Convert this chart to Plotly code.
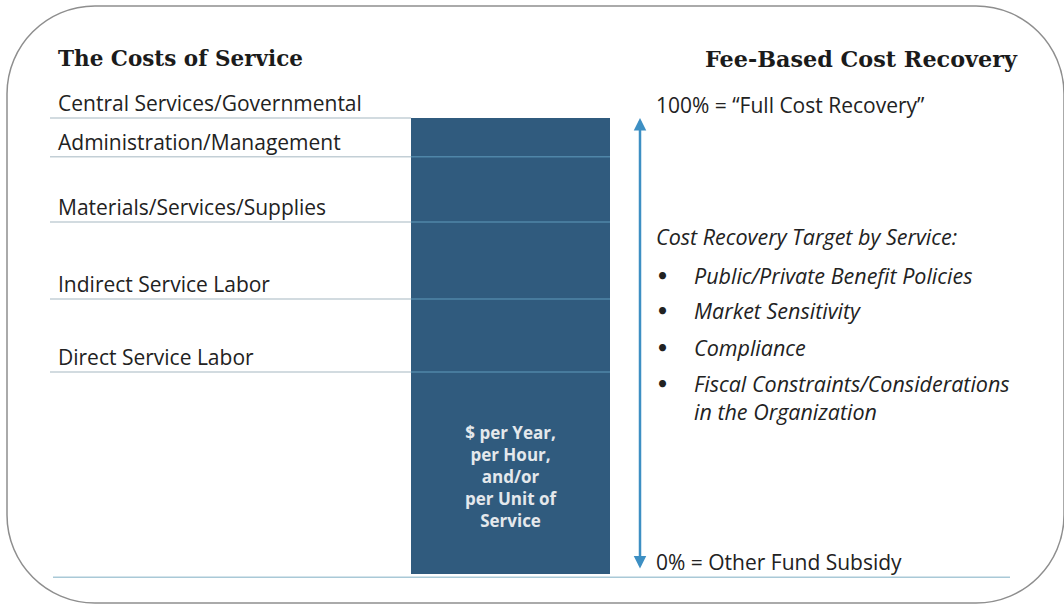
import plotly.graph_objects as go

# ---------------- data ----------------
segments = ["Direct Service Labor", "Indirect Service Labor", "Materials/Services/Supplies",
            "Administration/Management", "Central Services/Governmental"]   # bottom -> top
segment_share = [44.3, 16.0, 16.9, 14.3, 8.5]          # % of the full cost of service
bar_text = ["$ per Year,", "per Hour,", "and/or", "per Unit of", "Service"]
left_title = "The Costs of Service"
right_title = "Fee-Based Cost Recovery"
top_label = "100% = “Full Cost Recovery”"
bottom_label = "0% = Other Fund Subsidy"
target_head = "Cost Recovery Target by Service:"
target_items = ["Public/Private Benefit Policies", "Market Sensitivity", "Compliance",
                "Fiscal Constraints/Considerations<br>in the Organization"]

# ---------------- layout helpers ----------------
W, H = 1064, 605
BAR_TOP_PX, BAR_BOT_PX = 118, 574
scale = (BAR_BOT_PX - BAR_TOP_PX) / 100.0
y_lo = -(H - BAR_BOT_PX) / scale
y_hi = BAR_BOT_PX / scale


def px(x):
    return x / W


def py(y):
    return 1 - y / H


BAR_COLOR = "#305b7e"
TXT = "#222222"
LABEL_FONT = "Open Sans"
LSIZE = 21
ISIZE = 21.5

fig = go.Figure()

# stacked bar, one trace per cost layer
for name, v in zip(segments, segment_share):
    fig.add_trace(go.Bar(
        x=[510.5], y=[v], width=199, name=name,
        marker=dict(color=BAR_COLOR, line=dict(width=0)),
        hoverinfo="name+y", showlegend=False,
    ))

# boundaries (cumulative tops)
cum = []
s = 0
for v in segment_share:
    s += v
    cum.append(s)

shapes = []
# rounded border
x0, y0, x1, y1, r = 7, 6, 1064, 603, 88
k = 0.5523 * r
path = (f"M {px(x0 + r)},{py(y0)} L {px(x1 - r)},{py(y0)} "
        f"C {px(x1 - r + k)},{py(y0)} {px(x1)},{py(y0 + r - k)} {px(x1)},{py(y0 + r)} "
        f"L {px(x1)},{py(y1 - r)} "
        f"C {px(x1)},{py(y1 - r + k)} {px(x1 - r + k)},{py(y1)} {px(x1 - r)},{py(y1)} "
        f"L {px(x0 + r)},{py(y1)} "
        f"C {px(x0 + r - k)},{py(y1)} {px(x0)},{py(y1 - r + k)} {px(x0)},{py(y1 - r)} "
        f"L {px(x0)},{py(y0 + r)} "
        f"C {px(x0)},{py(y0 + r - k)} {px(x0 + r - k)},{py(y0)} {px(x0 + r)},{py(y0)} Z")
shapes.append(dict(type="path", xref="paper", yref="paper", path=path,
                   line=dict(color="#8e8e8e", width=1.5), layer="below"))

for c in cum:
    shapes.append(dict(type="line", xref="x", yref="y", x0=50, x1=411, y0=c, y1=c,
                       line=dict(color="#c3cfd6", width=1.5), layer="above"))
    if c < cum[-1]:
        shapes.append(dict(type="line", xref="x", yref="y", x0=411, x1=610, y0=c, y1=c,
                           line=dict(color="#4f86a8", width=1.5), layer="above"))
# bottom baseline
shapes.append(dict(type="line", xref="x", yref="y", x0=53, x1=1010, y0=-0.7, y1=-0.7,
                   line=dict(color="#a9c9d7", width=1.5), layer="above"))

annotations = []
# left labels, sitting on the top line of each layer
for name, c in zip(segments, cum):
    annotations.append(dict(x=56, y=c, xref="x", yref="y", text=name, showarrow=False,
                            xanchor="left", yanchor="bottom", yshift=-1,
                            font=dict(family=LABEL_FONT, size=LSIZE, color=TXT)))
# titles
annotations.append(dict(x=px(56), y=py(59), xref="paper", yref="paper", text=f"<b>{left_title}</b>",
                        showarrow=False, xanchor="left", yanchor="middle",
                        font=dict(family="DejaVu Serif", size=21.5, color="#1b1b1b")))
annotations.append(dict(x=px(1020), y=py(59), xref="paper", yref="paper", text=f"<b>{right_title}</b>",
                        showarrow=False, xanchor="right", yanchor="middle",
                        font=dict(family="DejaVu Serif", size=22.3, color="#1b1b1b")))
# text inside bar
annotations.append(dict(x=510.5, y=py(476), xref="x", yref="paper", text="<br>".join(bar_text),
                        showarrow=False, xanchor="center", yanchor="middle", align="center",
                        font=dict(family=LABEL_FONT, size=17, color="#e4e8ec", weight=700)))
# arrow 0% .. 100%
annotations.append(dict(x=640, y=cum[-1], ax=640, ay=0.9, xref="x", yref="y", axref="x", ayref="y",
                        text="", showarrow=True, arrowhead=2, startarrowhead=2, arrowside="end+start",
                        arrowsize=1, startarrowsize=1, arrowwidth=2.5, arrowcolor="#3d8fc3"))
# right texts
annotations.append(dict(x=px(654), y=py(105), xref="paper", yref="paper", text=top_label,
                        showarrow=False, xanchor="left", yanchor="middle",
                        font=dict(family=LABEL_FONT, size=LSIZE, color=TXT)))
annotations.append(dict(x=px(654), y=py(562), xref="paper", yref="paper", text=bottom_label,
                        showarrow=False, xanchor="left", yanchor="middle",
                        font=dict(family=LABEL_FONT, size=LSIZE, color=TXT)))
annotations.append(dict(x=px(654), y=py(237), xref="paper", yref="paper", text=f"<i>{target_head}</i>",
                        showarrow=False, xanchor="left", yanchor="middle",
                        font=dict(family=LABEL_FONT, size=ISIZE, color=TXT)))
item_y = [274, 309, 346, 382]
for t, yy in zip(target_items, item_y):
    annotations.append(dict(x=px(655), y=py(yy), xref="paper", yref="paper", text="•",
                            showarrow=False, xanchor="left", yanchor="middle",
                            font=dict(family="Lato", size=19, color=TXT)))
    annotations.append(dict(x=px(692), y=py(yy - 15), xref="paper", yref="paper",
                            text=f"<i>{t}</i>",
                            showarrow=False, xanchor="left", yanchor="top", align="left",
                            font=dict(family=LABEL_FONT, size=ISIZE, color=TXT)))

fig.update_layout(
    width=W, height=H, margin=dict(l=0, r=0, t=0, b=0),
    paper_bgcolor="white", plot_bgcolor="white",
    barmode="stack", bargap=0,
    xaxis=dict(range=[0, W], visible=False, fixedrange=True),
    yaxis=dict(range=[y_lo, y_hi], visible=False, fixedrange=True),
    shapes=shapes, annotations=annotations,
    showlegend=False,
)

fig.write_html("out.html", config={"displayModeBar": False},
               post_script="document.body.style.margin='0';document.body.style.overflow='hidden';")
